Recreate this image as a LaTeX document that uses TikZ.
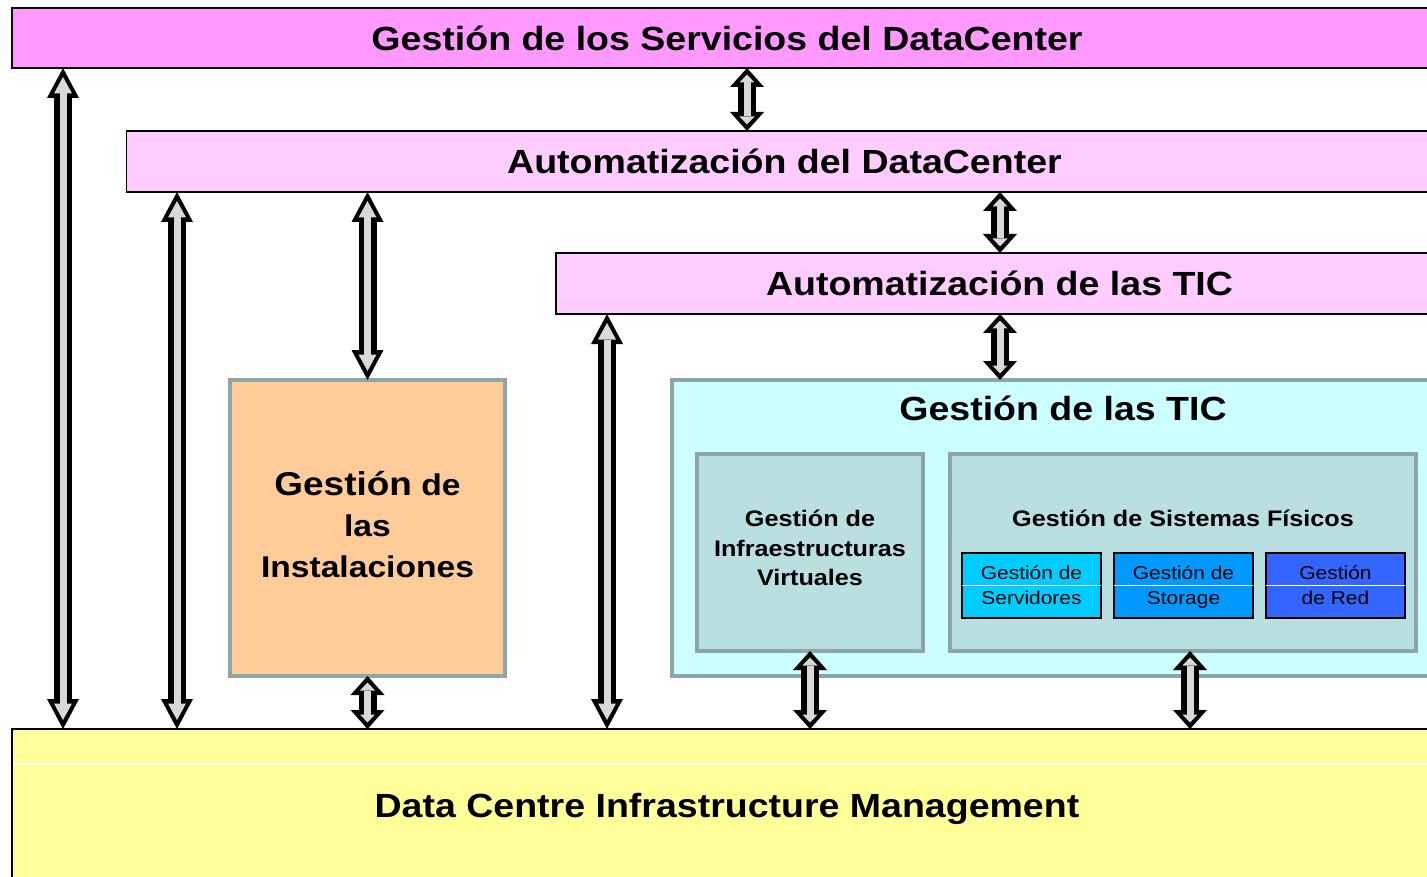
\documentclass[tikz,border=0pt]{standalone}
\usepackage{fontspec}
\setmainfont{Liberation Sans}[FakeStretch=1.12]
\usetikzlibrary{arrows.meta}

\definecolor{topviolet}{HTML}{FF99FF}
\definecolor{lightviolet}{HTML}{FFCCFF}
\definecolor{peach}{HTML}{FFCC99}
\definecolor{paleaqua}{HTML}{CCFFFF}
\definecolor{greyteal}{HTML}{B9DFE1}
\definecolor{framegrey}{HTML}{8CA6A8}
\definecolor{servblue}{HTML}{00CCFF}
\definecolor{storblue}{HTML}{0099FF}
\definecolor{netblue}{HTML}{3366FF}
\definecolor{paleyellow}{HTML}{FFFF99}
\definecolor{shaftgrey}{HTML}{D9D9D9}

\tikzset{
  layer/.style={draw=black, line width=1.5pt, inner sep=0pt, outer sep=0pt,
    font=\bfseries\fontsize{33.5}{40}\selectfont},
  block/.style={draw=framegrey, line width=4pt, inner sep=0pt, outer sep=0pt},
  unit/.style={draw=black, line width=1.2pt, inner sep=0pt, outer sep=0pt,
    minimum width=139pt, minimum height=65pt, align=center, text depth=0pt,
    font=\fontsize{18.7}{25}\selectfont},
  longout/.style={line width=18pt,
    {Triangle[width=32pt,length=30pt,line width=0pt]}-{Triangle[width=32pt,length=30pt,line width=0pt]}},
  longin/.style={draw=shaftgrey, line width=7pt, shorten <=9pt, shorten >=9pt,
    {Triangle[width=18pt,length=16.5pt,line width=0pt]}-{Triangle[width=18pt,length=16.5pt,line width=0pt]}},
  shortout/.style={line width=18pt,
    {Triangle[width=34pt,length=19pt,line width=0pt]}-{Triangle[width=34pt,length=19pt,line width=0pt]}},
  shortin/.style={draw=shaftgrey, line width=7pt, shorten <=6.5pt, shorten >=6.5pt,
    {Triangle[width=15pt,length=8pt,line width=0pt]}-{Triangle[width=15pt,length=8pt,line width=0pt]}}
}

\newcommand{\fatarrow}[3]{%
  \draw[#1out] #2 -- #3;
  \draw[#1in] #2 -- #3;
}

\begin{document}
\begin{tikzpicture}[x=1pt,y=-1pt]
\useasboundingbox (0,0) rectangle (1427,877);
\clip (0,0) rectangle (1427,877);

\node[layer, fill=topviolet, minimum width=1430pt, minimum height=60pt] (services) at (727,38) {Gestión de los Servicios del DataCenter};
\node[layer, fill=lightviolet, minimum width=1316pt, minimum height=61pt] (autodc) at (784.5,161.5) {Automatización del DataCenter};
\node[layer, fill=lightviolet, minimum width=887pt, minimum height=61pt] (autotic) at (999.5,283.5) {Automatización de las TIC};

\node[block, fill=peach, minimum width=275pt, minimum height=296pt] (inst) at (367.5,528) {};
\node[align=center, font=\bfseries\fontsize{30}{41}\selectfont] (insttext) at ([yshift=3pt]inst.center)
  {{\fontsize{33}{41}\selectfont Gestión} de\\las\\Instalaciones};

\node[block, fill=paleaqua, minimum width=776pt, minimum height=296pt] (tic) at (1060,528) {};
\node[font=\bfseries\fontsize{33.5}{40}\selectfont] (tictitle) at (1063,408) {Gestión de las TIC};

\node[block, fill=greyteal, minimum width=226pt, minimum height=197pt] (virt) at (810,552.5) {};
\node[align=center, font=\bfseries\fontsize{22.5}{29.5}\selectfont] (virttext) at ([yshift=4.5pt]virt.center)
  {Gestión de\\Infraestructuras\\Virtuales};
\node[block, fill=greyteal, minimum width=466pt, minimum height=197pt] (phys) at (1183,552.5) {};
\node[font=\bfseries\fontsize{22.5}{29.5}\selectfont] (phystitle) at (1183,518) {Gestión de Sistemas Físicos};

\node[unit, fill=servblue] (serv) at (1031.5,585.5) {Gestión de\\Servidores};
\node[unit, fill=storblue] (stor) at (1183.5,585.5) {Gestión de\\Storage};
\node[unit, fill=netblue] (net) at (1335.5,585.5) {Gestión\\de Red};
\draw[white, line width=1pt] (serv.west) -- (serv.east);
\draw[white, line width=1pt] (stor.west) -- (stor.east);
\draw[white, line width=1pt] (net.west) -- (net.east);

\node[layer, fill=paleyellow, minimum width=1430pt, minimum height=152pt, text depth=0pt] (dcim) at (727,805) {Data Centre Infrastructure Management};
\draw[white, line width=1.5pt] ([xshift=1pt,yshift=-35pt]dcim.north west) -- ([yshift=-35pt]dcim.north east);

% arrows
\fatarrow{long}{(63,0 |- services.south)}{(63,0 |- dcim.north)}
\fatarrow{long}{(177,0 |- autodc.south)}{(177,0 |- dcim.north)}
\fatarrow{long}{(inst.north |- autodc.south)}{(inst.north)}
\fatarrow{long}{(607,0 |- autotic.south)}{(607,0 |- dcim.north)}

\fatarrow{short}{(747,0 |- services.south)}{(747,0 |- autodc.north)}
\fatarrow{short}{(1000,0 |- autodc.south)}{(1000,0 |- autotic.north)}
\fatarrow{short}{(1000,0 |- autotic.south)}{(1000,0 |- tic.north)}
\fatarrow{short}{(inst.south)}{(inst.south |- dcim.north)}
\fatarrow{short}{(virt.south)}{(virt.south |- dcim.north)}
\fatarrow{short}{(1190,0 |- phys.south)}{(1190,0 |- dcim.north)}

\end{tikzpicture}
\end{document}
